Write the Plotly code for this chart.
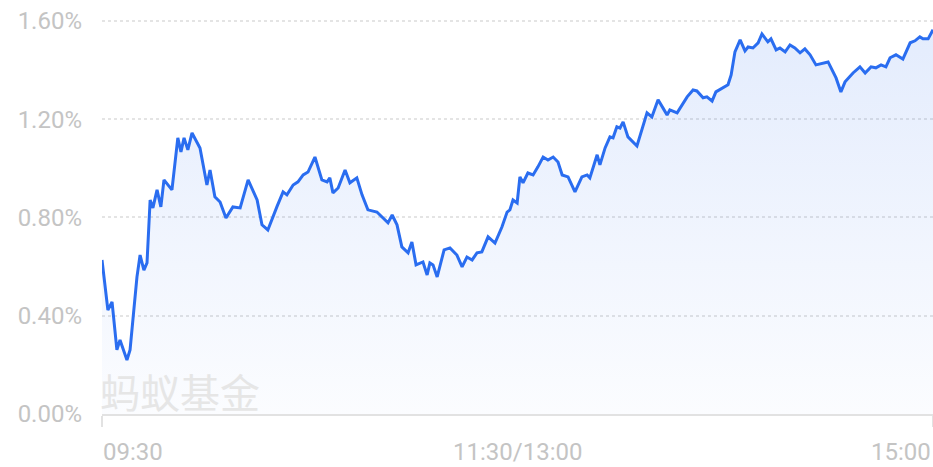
import plotly.graph_objects as go

# minutes since 09:30 (trading minutes, lunch break removed) and change in %
minutes = [0, 1.7, 2.9, 4.3, 5.2, 7.2, 8.1, 10.1, 11.0, 12.1, 13.0, 13.9, 14.7, 15.9, 17.0, 17.9,
           20.2, 21.9, 22.8, 23.7, 24.8, 26.0, 28.3, 30.3, 31.2, 32.6, 34.1, 35.8, 37.8, 39.9,
           42.2, 44.8, 46.2, 47.9, 50.5, 52.3, 53.4, 55.2, 56.6, 58.1, 59.5, 61.5, 63.5, 65.0,
           65.8, 66.7, 68.2, 70.2, 71.6, 73.6, 75.1, 76.8, 79.4, 82.6, 83.8, 85.2, 86.6, 88.4,
           89.5, 90.7, 92.7, 93.9, 94.7, 95.6, 96.8, 98.8, 100.5, 102.5, 104.0, 105.4, 106.9,
           108.3, 109.7, 111.5, 113.5, 115.5, 117.0, 117.8, 118.7, 119.9, 120.7, 121.6, 123.0,
           124.5, 125.9, 127.4, 128.8, 130.3, 131.7, 132.9, 134.6, 136.6, 138.6, 140.1, 140.9,
           143.0, 143.8, 145.3, 146.7, 147.6, 148.7, 149.6, 150.5, 151.9, 154.5, 156.0, 157.4,
           158.8, 160.6, 162.0, 163.2, 164.0, 166.1, 169.0, 170.7, 171.8, 173.6, 174.7, 176.2,
           177.3, 179.4, 180.8, 181.7, 182.8, 184.3, 185.7, 186.6, 188.0, 189.5, 190.6, 192.3,
           193.2, 194.7, 195.8, 197.3, 198.7, 200.1, 201.6, 203.0, 204.5, 206.2, 207.7, 209.7,
           212.0, 213.4, 214.6, 216.9, 218.9, 220.4, 222.1, 223.5, 225.0, 226.4, 227.6, 229.3,
           231.3, 233.4, 234.8, 236.2, 237.1, 238.6, 240]
pct = [0.627, 0.423, 0.456, 0.261, 0.301, 0.220, 0.261, 0.558, 0.647, 0.586, 0.615, 0.871, 0.839,
       0.912, 0.843, 0.953, 0.912, 1.124, 1.067, 1.124, 1.075, 1.144, 1.083, 0.932, 0.993, 0.884,
       0.863, 0.798, 0.843, 0.839, 0.953, 0.871, 0.770, 0.749, 0.843, 0.904, 0.892, 0.932, 0.945,
       0.973, 0.985, 1.046, 0.953, 0.945, 0.961, 0.900, 0.920, 0.993, 0.941, 0.961, 0.892, 0.831,
       0.822, 0.778, 0.810, 0.770, 0.680, 0.656, 0.700, 0.607, 0.619, 0.566, 0.615, 0.607, 0.558,
       0.668, 0.676, 0.647, 0.599, 0.639, 0.627, 0.656, 0.660, 0.721, 0.696, 0.761, 0.822, 0.831,
       0.871, 0.859, 0.965, 0.941, 0.981, 0.973, 1.006, 1.046, 1.034, 1.046, 1.026, 0.973, 0.965,
       0.904, 0.965, 0.973, 0.961, 1.055, 1.014, 1.083, 1.128, 1.124, 1.169, 1.164, 1.189, 1.128,
       1.091, 1.164, 1.226, 1.209, 1.279, 1.246, 1.217, 1.238, 1.226, 1.291, 1.319, 1.315, 1.287,
       1.291, 1.274, 1.311, 1.327, 1.340, 1.380, 1.474, 1.523, 1.478, 1.494, 1.490, 1.511, 1.547,
       1.515, 1.527, 1.482, 1.490, 1.474, 1.502, 1.490, 1.470, 1.486, 1.462, 1.421, 1.425, 1.433,
       1.368, 1.311, 1.352, 1.388, 1.413, 1.388, 1.413, 1.409, 1.421, 1.413, 1.450, 1.462, 1.445,
       1.511, 1.519, 1.535, 1.527, 1.527, 1.564]

y_ticks = [0, 0.4, 0.8, 1.2, 1.6]
y_tick_labels = ["0.00%", "0.40%", "0.80%", "1.20%", "1.60%"]
x_label_pos = [0, 120, 240]
x_labels = ["09:30", "11:30/13:00", "15:00"]
x_label_anchor = ["left", "center", "right"]
watermark = "蚂蚁基金"

LABEL_GRAY = "#c4c4c4"
FONT = "Roboto, 'Noto Sans', sans-serif"

fig = go.Figure()
fig.add_trace(go.Scatter(
    x=minutes, y=pct, mode="lines",
    line=dict(color="#2a6df0", width=3),
    fill="tozeroy",
    fillgradient=dict(type="vertical",
                      colorscale=[[0, "rgba(60,120,240,0.02)"], [1, "rgba(60,120,240,0.14)"]]),
    hoverinfo="skip", showlegend=False,
))

annotations = []
for pos, txt, anc in zip(x_label_pos, x_labels, x_label_anchor):
    annotations.append(dict(
        x=pos, xref="x", y=-0.0955, yref="paper", text=txt, showarrow=False,
        xanchor=anc, yanchor="middle", xshift=-1 if anc == "left" else 0,
        font=dict(family=FONT, size=24, color=LABEL_GRAY),
    ))
annotations.append(dict(
    x=0, xref="paper", y=0.058, yref="paper", text=watermark, showarrow=False,
    xanchor="left", yanchor="middle", xshift=-4,
    font=dict(family="'Noto Sans CJK SC', sans-serif", size=40, color="#e6e6e6"),
))

fig.update_layout(
    width=933, height=467,
    margin=dict(l=102, r=0, t=16, b=53),
    paper_bgcolor="white", plot_bgcolor="white",
    xaxis=dict(range=[0, 240], showgrid=False, zeroline=False,
               showline=True, linecolor="#e2e2e2", linewidth=2,
               tickvals=[0, 240], showticklabels=False,
               ticks="outside", ticklen=11, tickcolor="#e2e2e2", tickwidth=2),
    yaxis=dict(range=[0, 1.62], tickvals=y_ticks, ticktext=y_tick_labels,
               showgrid=True, gridcolor="#e4e4e4", griddash="dot", gridwidth=1.5,
               zeroline=False, showline=False, ticks="",
               ticklabelstandoff=19, ticklabeloverflow="allow",
               tickfont=dict(family=FONT, size=24, color=LABEL_GRAY)),
    annotations=annotations,
    hovermode=False,
)

# remove the default page margin so the figure fills the 933x467 window exactly
fig.write_html(
    "out.html",
    config={"displayModeBar": False},
    post_script="document.body.style.margin='0';"
                "document.documentElement.style.overflow='hidden';",
)
